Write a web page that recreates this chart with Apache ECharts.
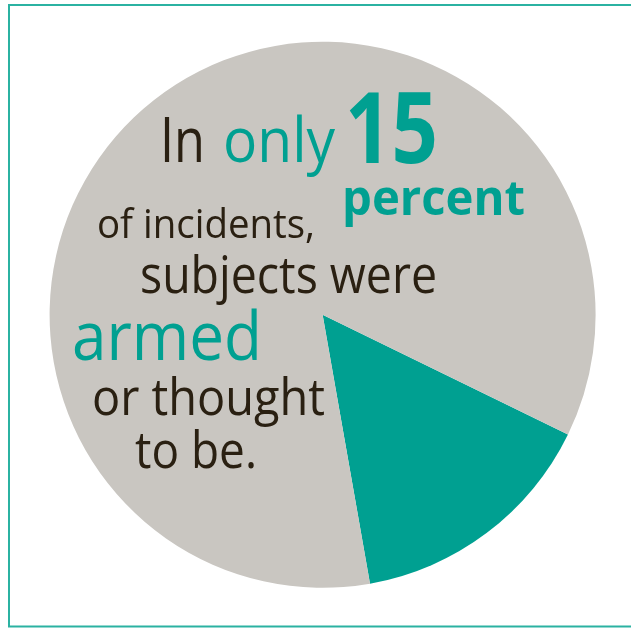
<!DOCTYPE html>
<html><head><meta charset="utf-8">
<script src="https://cdn.jsdelivr.net/npm/echarts@6/dist/echarts.min.js"></script>
<style>html,body{margin:0;padding:0;background:#fff}#c{width:631px;height:628px}</style>
</head><body><div id="c"></div>
<script>
// Data
var categories = ['Armed or thought to be armed', 'Not armed'];
var values = [15, 85];
var colors = ['#00a091', '#c9c6c1'];
// Text lines of the infographic
var textLines = ['In', 'only', '15', 'percent', 'of incidents,', 'subjects were', 'armed', 'or thought', 'to be.'];

var TEAL = '#00a091', DARK = '#2a2012';
var FONT = '"Open Sans", sans-serif';
// layout: left x, baseline y, target width, font size, weight, colour
var layout = [
  [160, 162, 45, 63, 'normal', DARK],
  [223, 162, 112, 63, 'normal', TEAL],
  [345, 163, 93, 98, 'bold', TEAL],
  [342, 215, 183, 48, 'bold', TEAL],
  [97, 238, 218, 40, 'normal', DARK],
  [140, 293, 297, 51, 'normal', DARK],
  [72, 360, 190, 67, 'normal', TEAL],
  [92, 415, 233, 52, 'normal', DARK],
  [135, 468, 122, 52, 'normal', DARK]
];

var ctx = document.createElement('canvas').getContext('2d');
var graphics = [{
  type: 'rect', shape: {x: 9, y: 5, width: 640, height: 621.5},
  style: {fill: 'none', stroke: '#2bb2a2', lineWidth: 2}, z: 10
}];
textLines.forEach(function (t, i) {
  var L = layout[i];
  ctx.font = L[4] + ' ' + L[3] + 'px ' + FONT;
  var w = ctx.measureText(t).width;
  var sx = L[2] / w;
  graphics.push({
    type: 'text', x: L[0], y: L[1] + 0.21 * L[3], scaleX: sx, z: 20,
    style: {text: t, fill: L[5], font: L[4] + ' ' + L[3] + 'px ' + FONT,
            textAlign: 'left', textVerticalAlign: 'bottom'}
  });
});

var chart = echarts.init(document.getElementById('c'), null, {renderer: 'canvas'});
chart.setOption({
  animation: false,
  series: [{
    type: 'pie',
    center: [322.6, 314.8],
    radius: [0, 273],
    startAngle: -26,
    clockwise: true,
    label: {show: false},
    labelLine: {show: false},
    silent: true,
    itemStyle: {borderWidth: 0},
    data: categories.map(function (c, i) {
      return {name: c, value: values[i], itemStyle: {color: colors[i]}};
    })
  }],
  graphic: graphics
});
</script></body></html>
